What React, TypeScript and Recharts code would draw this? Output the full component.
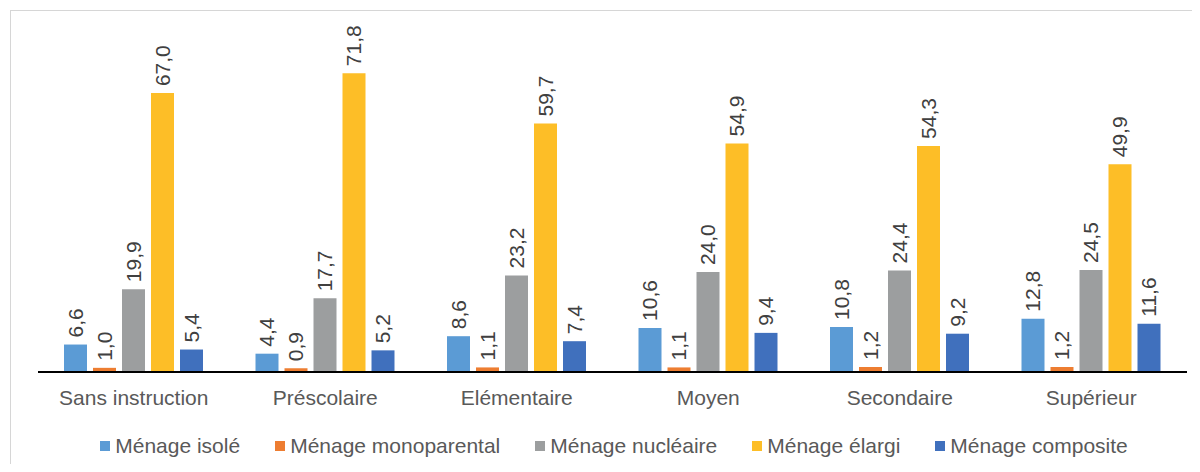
import { Bar, BarChart, LabelList, Legend, XAxis, YAxis } from 'recharts';

const categories = ['Sans instruction', 'Préscolaire', 'Elémentaire', 'Moyen', 'Secondaire', 'Supérieur'];
const isole = [6.6, 4.4, 8.6, 10.6, 10.8, 12.8];
const monoparental = [1.0, 0.9, 1.1, 1.1, 1.2, 1.2];
const nucleaire = [19.9, 17.7, 23.2, 24.0, 24.4, 24.5];
const elargi = [67.0, 71.8, 59.7, 54.9, 54.3, 49.9];
const composite = [5.4, 5.2, 7.4, 9.4, 9.2, 11.6];

const series = [
  { key: 'isole', name: 'Ménage isolé', color: '#5B9BD5', values: isole },
  { key: 'mono', name: 'Ménage monoparental', color: '#ED7D31', values: monoparental },
  { key: 'nucl', name: 'Ménage nucléaire', color: '#9C9E9F', values: nucleaire },
  { key: 'elargi', name: 'Ménage élargi', color: '#FDBE27', values: elargi },
  { key: 'compo', name: 'Ménage composite', color: '#4070BD', values: composite },
];

const data = categories.map((label, i) => {
  const row: Record<string, string | number> = { label };
  series.forEach((s) => {
    row[s.key] = s.values[i];
  });
  return row;
});

const font = '"Liberation Sans", Arial, Helvetica, sans-serif';

const ValueLabel = (props: any) => {
  const { x, y, width, value } = props;
  const cx = x + width / 2;
  const ty = y - 7;
  return (
    <text
      x={cx}
      y={ty}
      transform={`rotate(-90, ${cx}, ${ty})`}
      textAnchor="start"
      dominantBaseline="central"
      fill="#404040"
      fontSize={21}
      fontFamily={font}
    >
      {Number(value).toFixed(1).replace('.', ',')}
    </text>
  );
};

const CategoryTick = (props: any) => {
  const { x, y, payload } = props;
  return (
    <text x={x} y={y + 25} textAnchor="middle" dominantBaseline="central" fill="#595959" fontSize={21} fontFamily={font}>
      {payload.value}
    </text>
  );
};

const LegendContent = () => (
  <div style={{ display: 'flex', justifyContent: 'center', gap: 35, fontFamily: font, fontSize: 21, color: '#595959', lineHeight: '24px' }}>
    {series.map((s) => (
      <div key={s.key} style={{ display: 'flex', alignItems: 'center' }}>
        <span style={{ width: 10, height: 10, background: s.color, marginRight: 5, display: 'inline-block' }} />
        <span>{s.name}</span>
      </div>
    ))}
  </div>
);

export default function App() {
  return (
    <div style={{ margin: -8, width: 1200, height: 472, position: 'relative', overflow: 'hidden', background: '#fff' }}>
      <div
        style={{
          position: 'absolute',
          left: 10,
          top: 10,
          width: 1300,
          height: 600,
          borderTop: '1.5px solid #d6d6d6',
          borderLeft: '1.5px solid #d6d6d6',
        }}
      />
      <BarChart
        width={1200}
        height={472}
        data={data}
        margin={{ top: 39, right: 13, left: 38, bottom: 72 }}
        barSize={23}
        barGap={6}
        style={{ position: 'absolute', left: 0, top: 0 }}
      >
        <XAxis
          dataKey="label"
          height={28}
          tickSize={0}
          tickMargin={0}
          tickLine={false}
          axisLine={{ stroke: '#000', strokeWidth: 2 }}
          tick={<CategoryTick />}
          interval={0}
        />
        <YAxis hide domain={[0, 80]} />
        <Legend
          content={<LegendContent />}
          wrapperStyle={{ position: 'absolute', top: 434, left: 0, width: 1228, height: 0 }}
        />
        {series.map((s) => (
          <Bar key={s.key} dataKey={s.key} name={s.name} fill={s.color} isAnimationActive={false}>
            <LabelList dataKey={s.key} content={<ValueLabel />} />
          </Bar>
        ))}
      </BarChart>
    </div>
  );
}
